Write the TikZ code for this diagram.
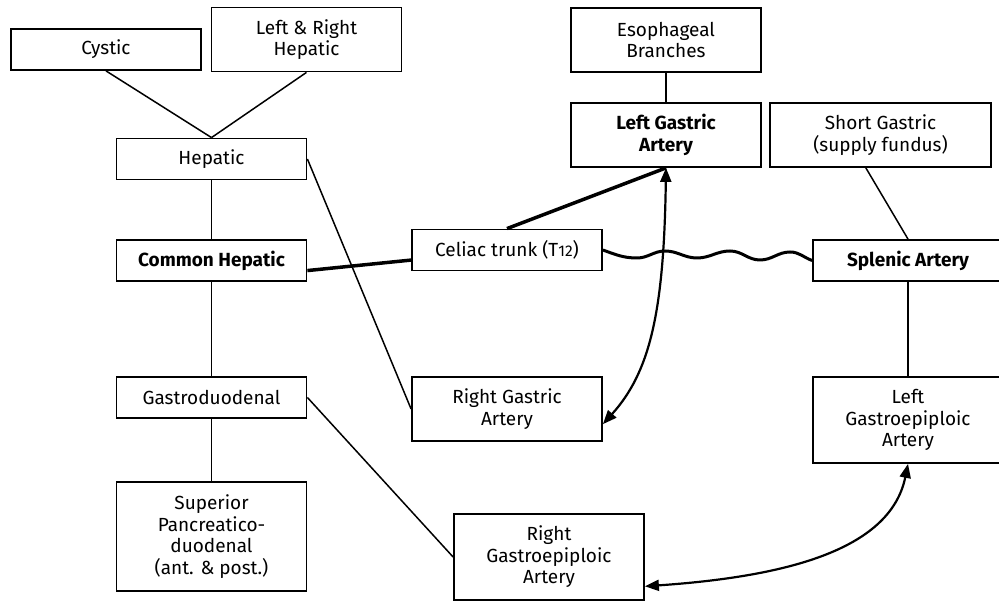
\documentclass[tikz,border=0pt]{standalone}
\usepackage{fontspec}
\setmainfont{Fira Sans}
\usetikzlibrary{arrows.meta}

\tikzset{
  box/.style={draw, line width=1.8pt, minimum width=190pt, inner sep=0pt,
    align=center, font=\fontsize{19}{21.5}\selectfont},
  one/.style={box, minimum height=41pt},
  two/.style={box, minimum height=64pt},
  three/.style={box, minimum height=86pt},
  four/.style={box, minimum height=109pt},
  strong/.style={font=\fontsize{19}{21.5}\selectfont\bfseries},
  link/.style={line width=1.5pt},
  trunk/.style={line width=3.5pt},
  loop/.style={line width=2.2pt,
    {Triangle[length=14pt,width=11pt]}-{Triangle[length=14pt,width=11pt]}},
}

\begin{document}
\begin{tikzpicture}[x=1pt,y=1pt]
  \clip (0,0) rectangle (999,602);

  % hepatic side
  \node[one]  (cystic)  at (106,552.5)  {Cystic};
  \node[two]  (lrh)     at (306.5,562.5) {Left \& Right\\Hepatic};
  \node[one]  (hep)     at (211.5,443)  {Hepatic};
  \node[one, strong] (ch) at (211.5,341.5) {Common Hepatic};
  \node[one]  (gd)      at (211.5,204.5) {Gastroduodenal};
  \node[four] (spd)     at (211.5,65.5) {Superior\\Pancreatico-\\duodenal\\(ant. \& post.)};

  % trunk and gastric side
  \node[one]  (celiac)  at (507,352) {Celiac trunk (T{\fontsize{15.5}{16}\selectfont 12})};
  \node[two]  (eso)     at (666,562) {Esophageal\\Branches};
  \node[two, strong] (lg) at (666,467) {Left Gastric\\Artery};
  \node[two, minimum width=221pt] (sg) at (880.5,467) {Short Gastric\\(supply fundus)};
  \node[one, strong] (spl) at (908,341.5) {Splenic Artery};
  \node[two]  (rg)      at (507,193) {Right Gastric\\Artery};
  \node[three] (lge)    at (908,182) {Left\\Gastroepiploic\\Artery};
  \node[three] (rge)    at (549,45) {Right\\Gastroepiploic\\Artery};

  % branches
  \draw[link] (cystic.south) -- (hep.north);
  \draw[link] (lrh.south) -- (hep.north);
  \draw[link] (hep.south) -- (ch.north);
  \draw[link] (ch.south) -- (gd.north);
  \draw[link] (gd.south) -- (spd.north);
  \draw[link] (hep.east) -- (rg.west);
  \draw[link] (gd.east) -- (rge.west);
  \draw[link] (eso.south) -- (lg.north);
  \draw[link] (sg.-114) -- (spl.north);
  \draw[link] (spl.south) -- (lge.north);

  % main trunk branches
  \draw[trunk] (ch.-6.3) -- (celiac.186);
  \draw[trunk] (celiac.north) -- (lg.south);
  \draw[line width=3pt] (celiac.east)
    to[out=-20,in=180] (637,344)
    to[out=0,in=180] (665,351)
    to[out=0,in=180] (697,344)
    to[out=0,in=180] (730,351)
    to[out=0,in=180] (760,342)
    to[out=0,in=180] (790,350)
    to[out=0,in=160] (spl.west);

  % anastomoses
  \draw[loop] (lg.south) .. controls (664,290) and (650,230) .. (rg.-9.6);
  \draw[loop] (lge.south) .. controls (890,50) and (780,25) .. (rge.-17.5);
\end{tikzpicture}
\end{document}
